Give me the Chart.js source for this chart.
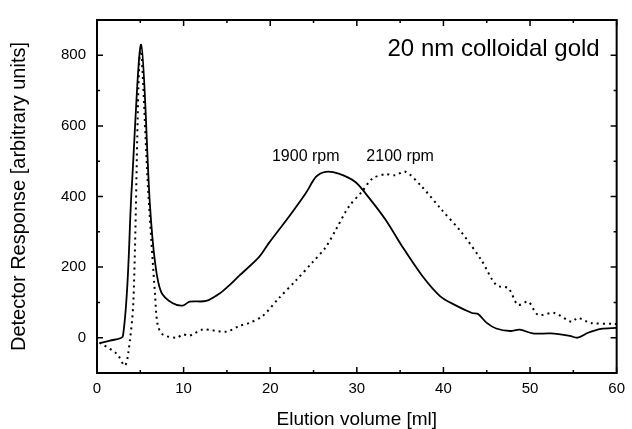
<!DOCTYPE html>
<html>
<head>
<meta charset="utf-8">
<script src="https://cdn.jsdelivr.net/npm/chart.js@4.4.0/dist/chart.umd.min.js"></script>
<style>
    body { margin: 0; background: #fff; }
    #wrap { width: 632px; height: 429px; }
</style>
</head>
<body>
<div id="wrap"><canvas id="Chart1" width="632" height="429"></canvas></div>
<script>
// 1900 rpm (solid)
const volume1900 = [0.3, 1.5, 3.0, 4.0, 5.1, 6.1, 6.7, 7.4, 8.7, 9.9, 10.7, 12.6, 14.2, 15.3, 16.4, 18.7, 19.9, 22.2, 24.1, 25.3, 26.4, 27.9, 29.8, 31.0, 33.3, 35.2, 37.5, 39.6, 41.3, 43.3, 44.0, 45.0, 46.1, 47.7, 48.8, 50.3, 52.4, 54.6, 55.5, 56.7, 58.2, 60.0];
const resp1900 = [-15, -8, 5, 420, 830, 381, 214, 130, 98, 91, 102, 104, 126, 149, 175, 228, 270, 344, 409, 456, 470, 465, 442, 409, 335, 260, 177, 118, 93, 70, 67, 42, 26, 19, 23, 12, 12, 5, 0, 14, 25, 28];

// 2100 rpm (dotted)
const volume2100 = [0.3, 2.3, 3.2, 3.6, 4.2, 5.0, 5.9, 6.7, 7.0, 7.6, 9.2, 9.9, 10.7, 12.2, 14.9, 16.4, 17.6, 19.1, 21.0, 23.0, 24.9, 26.4, 27.6, 29.1, 30.6, 31.8, 33.3, 34.4, 35.6, 37.5, 39.7, 42.1, 44.4, 46.1, 47.5, 48.6, 49.8, 50.9, 52.8, 54.8, 55.5, 57.0, 59.7, 60.0];
const resp2100 = [-14, -46, -79, -46, 102, 820, 420, 122, 37, 9, 0, 9, 6, 23, 17, 33, 42, 61, 112, 163, 214, 256, 307, 372, 414, 451, 463, 460, 470, 428, 365, 298, 219, 149, 140, 93, 102, 65, 70, 45, 56, 42, 39, 39];

const xTicks = [0, 10, 20, 30, 40, 50, 60];
const yTicks = [0, 200, 400, 600, 800];
const xMinor = [5, 15, 25, 35, 45, 55];
const yMinor = [-100, 100, 300, 500, 700];

const notes = [
    {x: 24.1, y: 512, text: '1900 rpm'},
    {x: 35.0, y: 512, text: '2100 rpm'}
];

const FONT = '"Liberation Sans", Arial, sans-serif';

function toPoints(xs, ys) {
    return xs.map((x, i) => ({x: x, y: ys[i]}));
}

// frame, inward ticks and the text inside the plot
const framePlugin = {
    id: 'frame',
    afterDraw(chart) {
        const ctx = chart.ctx;
        const a = chart.chartArea;
        const xs = chart.scales.x;
        const ys = chart.scales.y;
        ctx.save();
        ctx.strokeStyle = '#000';
        ctx.lineWidth = 2;
        ctx.strokeRect(a.left, a.top, a.right - a.left, a.bottom - a.top);

        function tickX(v, len) {
            const px = xs.getPixelForValue(v);
            ctx.beginPath();
            ctx.moveTo(px, a.bottom); ctx.lineTo(px, a.bottom - len);
            ctx.moveTo(px, a.top); ctx.lineTo(px, a.top + len);
            ctx.stroke();
        }
        function tickY(v, len) {
            const py = ys.getPixelForValue(v);
            ctx.beginPath();
            ctx.moveTo(a.left, py); ctx.lineTo(a.left + len, py);
            ctx.moveTo(a.right, py); ctx.lineTo(a.right - len, py);
            ctx.stroke();
        }
        ctx.lineWidth = 1.5;
        xTicks.forEach(v => tickX(v, 6));
        xMinor.forEach(v => tickX(v, 3));
        yTicks.forEach(v => tickY(v, 6));
        yMinor.forEach(v => tickY(v, 3));

        ctx.fillStyle = '#000';
        ctx.textAlign = 'center';
        ctx.textBaseline = 'middle';
        ctx.font = '16px ' + FONT;
        notes.forEach(n => {
            ctx.fillText(n.text, xs.getPixelForValue(n.x), ys.getPixelForValue(n.y));
        });
        ctx.font = '24px ' + FONT;
        ctx.textAlign = 'right';
        ctx.fillText('20 nm colloidal gold', a.right - 17, a.top + 29);
        ctx.restore();
    }
};

const ctx = document.getElementById('Chart1').getContext('2d');
new Chart(ctx, {
    type: 'scatter',
    data: {
        datasets: [{
                label: '1900 rpm',
                data: toPoints(volume1900, resp1900),
                showLine: true,
                borderColor: '#000',
                borderWidth: 1.8,
                pointRadius: 0,
                tension: 0.3
            }, {
                label: '2100 rpm',
                data: toPoints(volume2100, resp2100),
                showLine: true,
                borderColor: '#000',
                borderWidth: 2,
                borderDash: [2, 4],
                pointRadius: 0,
                tension: 0.3
            }]
    },
    options: {
        responsive: false,
        animation: false,
        layout: {padding: {top: 14, right: 13, left: 0, bottom: 0}},
        plugins: {
            legend: {display: false},
            tooltip: {enabled: false}
        },
        scales: {
            x: {
                type: 'linear',
                min: 0,
                max: 60,
                afterBuildTicks: s => { s.ticks = xTicks.map(v => ({value: v})); },
                afterFit: s => { s.height = 56; },
                grid: {display: false, drawTicks: false},
                border: {display: false},
                ticks: {color: '#000', padding: 7, font: {family: FONT, size: 15}},
                title: {display: true, text: 'Elution volume [ml]', color: '#000',
                    font: {family: FONT, size: 19}, padding: {top: 4, bottom: -2}}
            },
            y: {
                type: 'linear',
                min: -100,
                max: 900,
                afterBuildTicks: s => { s.ticks = yTicks.map(v => ({value: v})); },
                afterFit: s => { s.width = 97; },
                grid: {display: false, drawTicks: false},
                border: {display: false},
                ticks: {color: '#000', padding: 11, font: {family: FONT, size: 15}},
                title: {display: true, text: 'Detector Response [arbitrary units]', color: '#000',
                    font: {family: FONT, size: 20}, padding: {top: 7, bottom: 4}}
            }
        }
    },
    plugins: [framePlugin]
});
</script>
</body>
</html>
